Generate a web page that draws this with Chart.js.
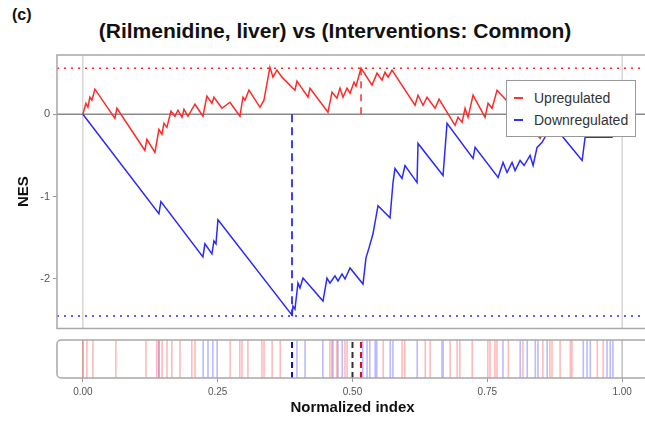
<!DOCTYPE html>
<html>
<head>
<meta charset="utf-8">
<script src="https://cdn.jsdelivr.net/npm/chart.js@4.4.1/dist/chart.umd.min.js"></script>
<style>
  html, body { margin: 0; padding: 0; background: #fff; overflow: hidden; }
  body { width: 645px; height: 421px; position: relative; font-family: "Liberation Sans", Arial, sans-serif; }
  #panel { position: absolute; left: 12px; top: 5px; font-weight: bold; font-size: 16px; line-height: 20px; color: #111; }
  #title { position: absolute; left: 0; width: 670px; top: 19px; text-align: center; font-weight: bold; font-size: 21px; line-height: 24px; color: #111; }
  canvas { position: absolute; left: 0; }
  #legend { position: absolute; left: 506px; top: 80px; width: 128px; height: 55px; border: 1px solid #999; background: #fff; font-size: 14px; color: #333; }
  #legend div { position: absolute; left: 27px; line-height: 16px; }
  #legend span { position: absolute; left: -20px; top: 7px; width: 9px; height: 2px; }
</style>
</head>
<body>
<div id="panel">(c)</div>
<div id="title">(Rilmenidine, liver) vs (Interventions: Common)</div>
<canvas id="mainChart" width="660" height="338" style="top:0"></canvas>
<canvas id="hitChart" width="660" height="91" style="top:330px"></canvas>
<div id="legend">
  <div style="top:9px"><span style="background:#ff3030"></span>Upregulated</div>
  <div style="top:31px"><span style="background:#3030ff"></span>Downregulated</div>
</div>
<script>
// running enrichment score, upregulated set
const upCurve = [
  [0, 0], [0.0056, 0.134], [0.0093, 0.085], [0.013, 0.207], [0.0167, 0.171], [0.0223, 0.305],
  [0.0594, -0.049], [0.0631, 0.073], [0.115, -0.439], [0.1187, -0.305], [0.1336, -0.463],
  [0.141, -0.183], [0.1466, -0.244], [0.1503, -0.110], [0.1558, -0.159], [0.1633, 0.037],
  [0.1707, -0.024], [0.1763, 0.049], [0.1837, -0.037], [0.1874, 0.061], [0.1948, -0.024],
  [0.2078, 0.122], [0.2226, -0.024], [0.230, 0.220], [0.2393, 0.134], [0.243, 0.207],
  [0.2579, 0.073], [0.2727, 0.146], [0.2913, -0.024], [0.2968, 0.207], [0.3006, 0.171],
  [0.308, 0.293], [0.3284, 0.085], [0.3358, 0.171], [0.3469, 0.573], [0.3525, 0.451],
  [0.3599, 0.537], [0.3692, 0.451], [0.3933, 0.293], [0.397, 0.402], [0.4174, 0.207],
  [0.4212, 0.317], [0.4545, 0.024], [0.462, 0.268], [0.4712, 0.195], [0.4768, 0.317],
  [0.4824, 0.207], [0.4898, 0.317], [0.4954, 0.256], [0.5028, 0.390], [0.5065, 0.341],
  [0.5158, 0.561], [0.5362, 0.354], [0.5455, 0.500], [0.5547, 0.415], [0.5603, 0.512],
  [0.5659, 0.451], [0.5733, 0.537], [0.616, 0.110], [0.6215, 0.232], [0.6308, 0.110],
  [0.6382, 0.207], [0.6531, 0.073], [0.6605, 0.183], [0.6902, -0.134], [0.6957, -0.037],
  [0.7032, -0.098], [0.7087, 0.073], [0.7143, -0.037], [0.7236, 0.232], [0.7458, -0.037],
  [0.7514, 0.134], [0.7588, 0.073], [0.7681, 0.293], [0.7922, 0.122], [0.8479, -0.293],
  [0.859, -0.134], [0.9128, -0.22], [0.9592, -0.05], [1.0, 0]
];

// running enrichment score, downregulated set
const downCurve = [
  [0, 0], [0.141, -1.207], [0.1447, -1.061], [0.2226, -1.732], [0.2263, -1.573],
  [0.2393, -1.695], [0.243, -1.537], [0.2468, -1.573], [0.2505, -1.280], [0.3878, -2.439],
  [0.3896, -2.329], [0.3933, -2.366], [0.3989, -2.049], [0.4026, -2.110], [0.4082, -1.988],
  [0.4453, -2.268], [0.4527, -1.988], [0.4583, -2.049], [0.4675, -1.963], [0.4731, -2.024],
  [0.4805, -1.939], [0.4861, -2.000], [0.4954, -1.866], [0.5195, -2.061], [0.525, -1.744],
  [0.5306, -1.622], [0.538, -1.451], [0.5473, -1.110], [0.5696, -1.256], [0.5751, -0.829],
  [0.5788, -0.659], [0.5918, -0.780], [0.5974, -0.622], [0.6197, -0.829], [0.6215, -0.354],
  [0.6679, -0.744], [0.6753, -0.110], [0.7236, -0.537], [0.7273, -0.402], [0.77, -0.768],
  [0.7792, -0.585], [0.7866, -0.707], [0.7959, -0.585], [0.8015, -0.683], [0.8108, -0.561],
  [0.8182, -0.622], [0.8293, -0.500], [0.8349, -0.622], [0.8423, -0.402], [0.8516, -0.341],
  [0.8609, -0.232], [0.8757, -0.098], [0.8905, -0.280], [0.9258, -0.561], [0.9314, -0.280],
  [0.9814, -0.280], [1.0, 0]
];

// gene positions in the ranked list (barcode panel)
const upHits = [0, 0.0074, 0.0186, 0.0612, 0.117, 0.137, 0.141, 0.147, 0.156, 0.165, 0.18,
  0.202, 0.208, 0.273, 0.291, 0.295, 0.306, 0.332, 0.336, 0.351, 0.366, 0.458, 0.464, 0.471,
  0.486, 0.49, 0.557, 0.592, 0.597, 0.635, 0.644, 0.681, 0.694, 0.699, 0.722, 0.751, 0.755,
  0.764, 0.768, 0.789, 0.816, 0.853, 0.866, 0.87, 0.885, 0.904, 0.907, 0.954, 0.965];
const downHits = [0.141, 0.223, 0.232, 0.241, 0.249, 0.397, 0.412, 0.445, 0.462, 0.473, 0.481,
  0.519, 0.527, 0.532, 0.542, 0.545, 0.57, 0.575, 0.62, 0.666, 0.668, 0.779, 0.811, 0.824,
  0.839, 0.844, 0.861, 0.928, 0.935, 0.941, 0.972, 0.978, 0.983];

const upMax = 0.56, upMaxAt = 0.5158;
const downMin = -2.45, downMinAt = 0.3878;
const median = 0.5;

const yTicks = [-2, -1, 0];
const xTicks = [0, 0.25, 0.5, 0.75, 1];
const xMin = -0.048, xMax = 1.048;
const yMin = -2.6, yMax = 0.72;

Chart.defaults.font.family = '"Liberation Sans", Arial, sans-serif';
Chart.defaults.animation = false;

const RED = "#ff2a2a";
const BLUE = "#2a2aff";

function pts(arr) { return arr.map(p => ({ x: p[0], y: p[1] })); }
function line(data, color, width, dash) {
  return { data, borderColor: color, borderWidth: width, borderDash: dash || [], pointRadius: 0, showLine: true, fill: false };
}
function hitSegments(xs) {
  const out = [];
  xs.forEach(x => { out.push({ x, y: 0 }, { x, y: 1 }, { x, y: null }); });
  return out;
}

// frame around the plot area
const framePlugin = {
  id: "frame",
  afterDraw(chart, args, opts) {
    const { ctx, chartArea: a } = chart;
    ctx.save();
    ctx.strokeStyle = "#a8a8a8";
    ctx.lineWidth = 1.5;
    ctx.beginPath();
    if (opts.round) ctx.roundRect(a.left, a.top, a.right - a.left, a.bottom - a.top, 4);
    else ctx.rect(a.left, a.top, a.right - a.left, a.bottom - a.top);
    ctx.stroke();
    ctx.restore();
  }
};

// main panel: running sums
const chart1 = document.getElementById("mainChart").getContext("2d");
const mainChart = new Chart(chart1, {
  type: "scatter",
  data: {
    datasets: [
      line(pts(upCurve), RED, 1.5),
      line(pts(downCurve), BLUE, 1.5),
      line([{ x: upMaxAt, y: 0 }, { x: upMaxAt, y: upMax }], RED, 1.5, [7, 6]),
      line([{ x: downMinAt, y: 0 }, { x: downMinAt, y: downMin }], BLUE, 1.8, [8, 5]),
      line([{ x: xMin, y: upMax }, { x: xMax, y: upMax }], RED, 1.5, [2, 5]),
      line([{ x: xMin, y: downMin }, { x: xMax, y: downMin }], BLUE, 1.5, [2, 5]),
      line([{ x: xMin, y: 0 }, { x: xMax, y: 0 }], "#8a8a8a", 1.5),
      line([{ x: 0, y: yMin }, { x: 0, y: yMax }], "#c0c0c0", 1),
      line([{ x: 1, y: yMin }, { x: 1, y: yMax }], "#c0c0c0", 1),
    ],
  },
  options: {
    responsive: false,
    layout: { padding: { top: 55, bottom: 5, right: 12, left: 0 } },
    plugins: { legend: { display: false }, tooltip: { enabled: false }, frame: { round: false } },
    scales: {
      x: { type: "linear", display: false, min: xMin, max: xMax },
      y: {
        type: "linear", min: yMin, max: yMax,
        afterBuildTicks: s => { s.ticks = yTicks.map(v => ({ value: v })); },
        afterFit: s => { s.width = 57; },
        ticks: { color: "#555", font: { size: 11 }, padding: 3, callback: v => String(v) },
        grid: { drawOnChartArea: false, drawTicks: true, tickLength: 4, color: "#999" },
        border: { display: false },
        title: { display: true, text: "NES", color: "#111", font: { size: 15, weight: "bold" }, padding: { top: 15, bottom: 0 } },
      },
    },
  },
  plugins: [framePlugin],
});

// barcode panel: positions of the genes of each set
const chart2 = document.getElementById("hitChart").getContext("2d");
const hitChart = new Chart(chart2, {
  type: "scatter",
  data: {
    datasets: [
      line([{ x: downMinAt, y: 0 }, { x: downMinAt, y: 1 }], "#1010c8", 2, [6, 4]),
      line([{ x: median, y: 0 }, { x: median, y: 1 }], "#333", 2, [6, 4]),
      line([{ x: upMaxAt, y: 0 }, { x: upMaxAt, y: 1 }], "#e01010", 2, [6, 4]),
      line(hitSegments(upHits), "rgba(255, 60, 60, 0.35)", 1.6),
      line(hitSegments(downHits), "rgba(60, 60, 255, 0.35)", 1.6),
      line([{ x: 0, y: 0 }, { x: 0, y: 1 }, { x: 0, y: null }, { x: 1, y: 0 }, { x: 1, y: 1 }], "#c0c0c0", 1.5),
    ].map(d => Object.assign(d, { spanGaps: false })),
  },
  options: {
    responsive: false,
    layout: { padding: { top: 10, bottom: 0, right: 12, left: 57 } },
    plugins: { legend: { display: false }, tooltip: { enabled: false }, frame: { round: true } },
    scales: {
      x: {
        type: "linear", min: xMin, max: xMax,
        afterBuildTicks: s => { s.ticks = xTicks.map(v => ({ value: v })); },
        afterFit: s => { s.height = 43; },
        ticks: { color: "#555", font: { size: 10 }, padding: 4, callback: v => Number(v).toFixed(2) },
        grid: { drawOnChartArea: false, drawTicks: true, tickLength: 4, color: "#999" },
        border: { display: false },
        title: { display: true, text: "Normalized index", color: "#111", font: { size: 15, weight: "bold" }, padding: { top: 0, bottom: 4 } },
      },
      y: { type: "linear", display: false, min: 0, max: 1 },
    },
  },
  plugins: [framePlugin],
});
</script>
</body>
</html>
